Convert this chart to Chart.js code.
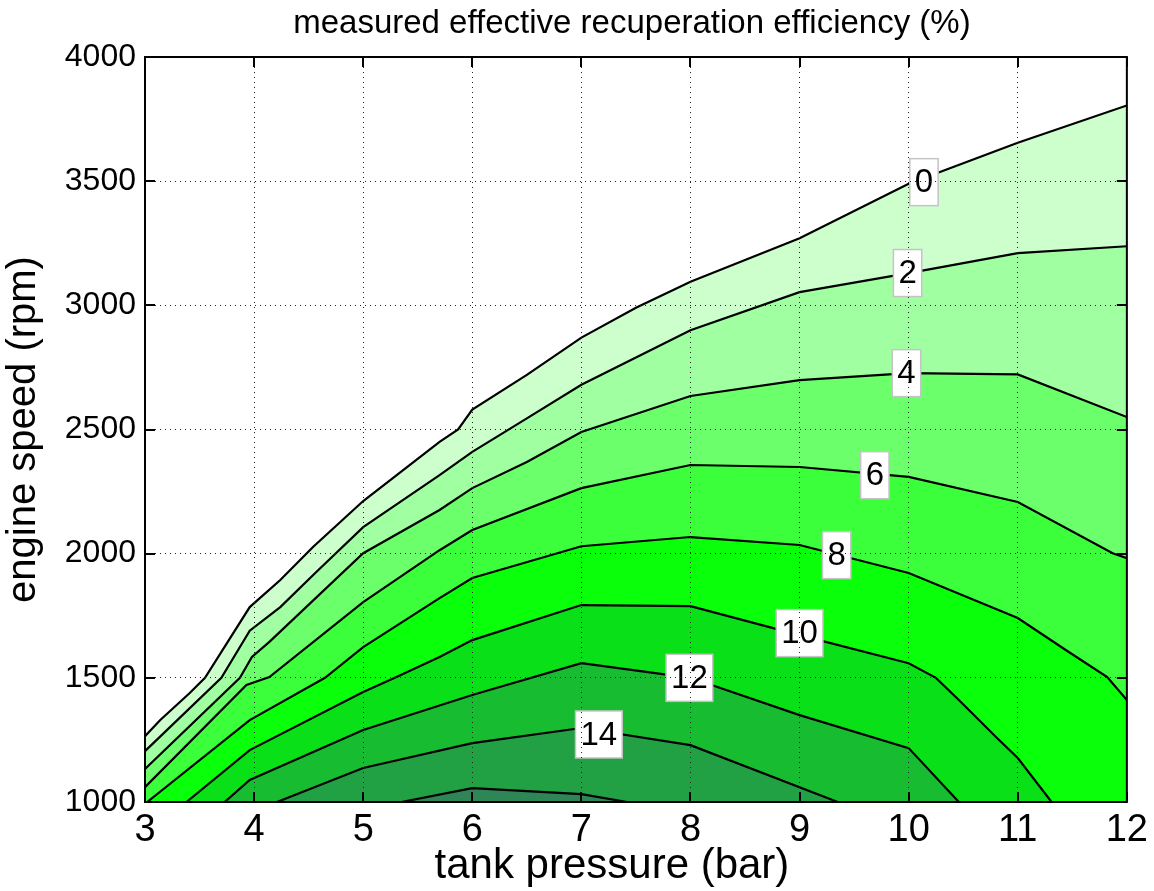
<!DOCTYPE html>
<html>
<head>
<meta charset="utf-8">
<script src="https://cdn.jsdelivr.net/npm/chart.js@4/dist/chart.umd.min.js"></script>
<style>
  html, body { margin: 0; padding: 0; background: #fff; }
  #wrap { width: 1154px; height: 891px; }
</style>
</head>
<body>
<div id="wrap"><canvas id="contourChart" width="1154" height="891"></canvas></div>
<script>
// efficiency levels (%) and the fill colour of the band just above each level
const levels = [0, 2, 4, 6, 8, 10, 12, 14, 16];
const bandColors = ['#ccffcc', '#a0ffa0', '#6cff6c', '#3cff3c', '#0aff0a', '#0ae018', '#18bc30', '#22a044', '#2e8656'];

// iso-efficiency lines, points are [tank pressure (bar), engine speed (rpm)]
const c0 = [[3, 1265], [3.14, 1330], [3.41, 1439], [3.55, 1500], [3.96, 1785], [4.24, 1894], [4.54, 2027], [5, 2212],
  [5.7, 2450], [5.87, 2500], [6, 2580], [6.5, 2720], [7, 2870], [7.5, 2990], [8, 3095], [9, 3270], [10, 3490], [11, 3655], [12, 3805]];
const c2 = [[3, 1205], [3.7, 1500], [3.96, 1690], [4.24, 1785], [4.57, 1926], [5, 2107], [5.7, 2316], [6, 2410],
  [6.5, 2545], [7, 2680], [8, 2900], [9, 3053], [10, 3130], [11, 3210], [12, 3238]];
const c4 = [[3, 1133], [3.87, 1500], [3.98, 1584], [4.14, 1645], [5, 2002], [5.7, 2176], [6, 2264], [6.5, 2369],
  [7, 2490], [8, 2635], [9, 2699], [10, 2727], [11, 2722], [12, 2550]];
const c6 = [[3, 1060], [3.93, 1471], [4.14, 1503], [5, 1805], [5.7, 2014], [6, 2095], [7, 2264], [8, 2357], [9, 2349],
  [10, 2309], [11, 2208], [11.87, 2002], [12, 1982]];
const c8 = [[3.02, 1000], [3.96, 1330], [4.65, 1500], [5, 1624], [5.7, 1821], [6, 1902], [7, 2030], [8, 2067], [9, 2035],
  [10, 1922], [11, 1741], [11.44, 1612], [11.82, 1503], [12, 1411]];
const c10 = [[3.38, 1000], [3.96, 1209], [5, 1443], [5.29, 1500], [5.7, 1584], [6, 1652], [7, 1793], [8, 1789], [9, 1672],
  [10, 1559], [10.25, 1500], [10.46, 1411], [10.81, 1258], [11, 1177], [11.31, 1000]];
const c12 = [[3.73, 1000], [3.96, 1089], [5, 1290], [6, 1431], [7, 1559], [8, 1500], [9, 1350], [10, 1217], [10.46, 1000]];
const c14 = [[4.21, 1000], [5, 1137], [6, 1237], [7, 1298], [8, 1229], [9.35, 1000]];
const c16 = [[5.35, 1000], [6, 1056], [7, 1032], [7.42, 1000]];
const contours = [c0, c2, c4, c6, c8, c10, c12, c14, c16];

// inline level labels and where they sit on their line
const labelLevels = [0, 2, 4, 6, 8, 10, 12, 14];
const labelAt = [[10.14, 3496], [9.99, 3130], [9.98, 2727], [9.69, 2316], [9.34, 1994], [9.0, 1680], [7.99, 1500], [7.16, 1272]];

const pressureTicks = [3, 4, 5, 6, 7, 8, 9, 10, 11, 12];
const speedTicks = [1000, 1500, 2000, 2500, 3000, 3500, 4000];

const FONT = '"Liberation Sans", Arial, Helvetica, sans-serif';
Chart.defaults.font.family = FONT;
Chart.defaults.color = '#000';

// white boxes with the level value, drawn over the lines
const contourLabels = {
  id: 'contourLabels',
  afterDatasetsDraw(chart) {
    const { ctx, scales: { x, y } } = chart;
    ctx.save();
    ctx.font = '33px ' + FONT;
    ctx.textAlign = 'center';
    ctx.textBaseline = 'middle';
    labelAt.forEach(([p, s], i) => {
      const txt = String(labelLevels[i]);
      const px = x.getPixelForValue(p);
      const py = y.getPixelForValue(s);
      const w = ctx.measureText(txt).width + 10;
      const h = 47;
      ctx.fillStyle = '#fff';
      ctx.fillRect(px - w / 2, py - h / 2, w, h);
      ctx.strokeStyle = '#c4c4c4';
      ctx.lineWidth = 1.5;
      ctx.strokeRect(px - w / 2, py - h / 2, w, h);
      ctx.fillStyle = '#000';
      ctx.fillText(txt, px, py + 1);
    });
    ctx.restore();
  }
};

// axes box with inward ticks, the title and the x axis label
const axesBox = {
  id: 'axesBox',
  afterDraw(chart) {
    const { ctx, chartArea: a, scales: { x, y } } = chart;
    ctx.save();
    ctx.strokeStyle = '#000';
    ctx.lineWidth = 2;
    ctx.beginPath();
    pressureTicks.forEach(v => {
      const px = Math.round(x.getPixelForValue(v));
      ctx.moveTo(px, a.bottom); ctx.lineTo(px, a.bottom - 10);
      ctx.moveTo(px, a.top); ctx.lineTo(px, a.top + 10);
    });
    speedTicks.forEach(v => {
      const py = Math.round(y.getPixelForValue(v));
      ctx.moveTo(a.left, py); ctx.lineTo(a.left + 10, py);
      ctx.moveTo(a.right, py); ctx.lineTo(a.right - 10, py);
    });
    ctx.stroke();
    ctx.strokeRect(a.left, a.top, a.right - a.left, a.bottom - a.top);

    ctx.fillStyle = '#000';
    ctx.textAlign = 'center';
    ctx.textBaseline = 'middle';
    ctx.font = '33px ' + FONT;
    ctx.fillText('measured effective recuperation efficiency (%)', (a.left + a.right) / 2 - 4, 24);
    ctx.font = '42px ' + FONT;
    ctx.fillText('tank pressure (bar)', (a.left + a.right) / 2 - 24, 866);
    ctx.restore();
  }
};

const gridOpts = { color: '#222', lineWidth: 1, drawTicks: false, z: 1 };
const borderOpts = { display: false, dash: [1, 4] };

new Chart(document.getElementById('contourChart'), {
  type: 'line',
  data: {
    datasets: contours.map((pts, i) => ({
      label: levels[i] + ' %',
      data: pts.map(([p, s]) => ({ x: p, y: s })),
      borderColor: '#000',
      borderWidth: 2.2,
      backgroundColor: bandColors[i],
      fill: 'start',
      pointRadius: 0,
      tension: 0,
      order: levels.length - i
    }))
  },
  options: {
    responsive: false,
    animation: false,
    devicePixelRatio: 1,
    layout: { padding: { top: 57, right: 26, left: 0, bottom: 0 } },
    plugins: {
      legend: { display: false },
      tooltip: { enabled: false },
      title: { display: false }
    },
    scales: {
      x: {
        type: 'linear',
        min: 3,
        max: 12,
        afterBuildTicks: s => { s.ticks = pressureTicks.map(v => ({ value: v })); },
        afterFit: s => { s.height = 89; },
        ticks: { font: { size: 38 }, padding: 6, maxRotation: 0, callback: v => String(v) },
        title: { display: false },
        grid: gridOpts,
        border: borderOpts
      },
      y: {
        type: 'linear',
        min: 1000,
        max: 4000,
        afterBuildTicks: s => { s.ticks = speedTicks.map(v => ({ value: v })); },
        afterFit: s => { s.width = 145; },
        ticks: { font: { size: 32 }, padding: 9, callback: v => String(v) },
        title: { display: true, text: 'engine speed (rpm)', font: { size: 40 }, padding: { top: 0, bottom: 0 } },
        grid: gridOpts,
        border: borderOpts
      }
    }
  },
  plugins: [contourLabels, axesBox]
});
</script>
</body>
</html>
